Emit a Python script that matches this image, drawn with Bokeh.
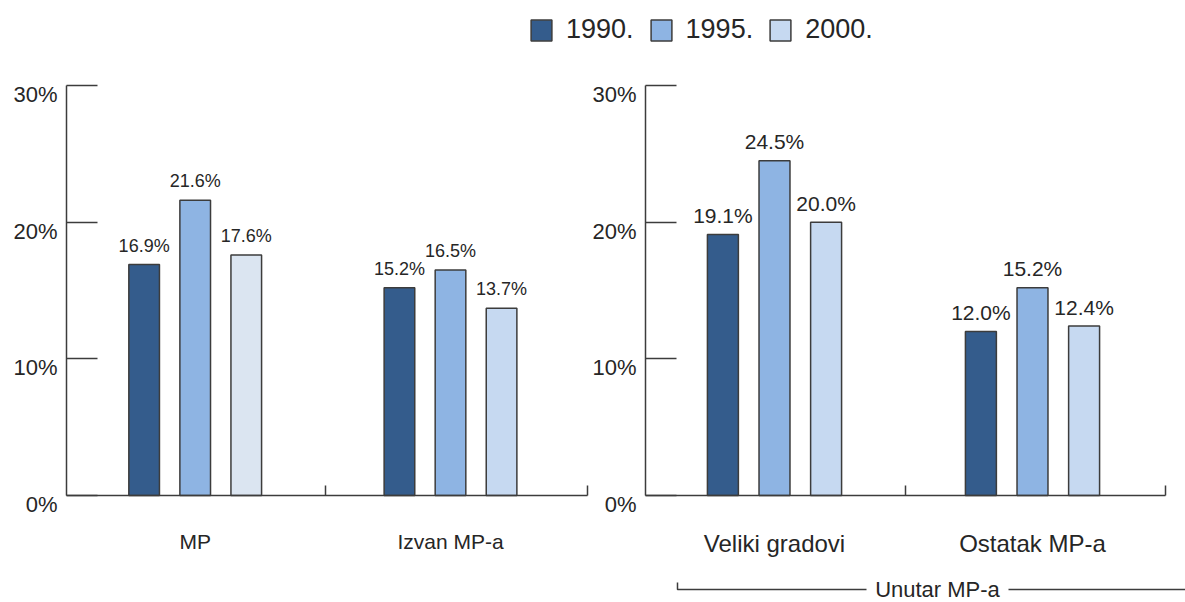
from bokeh.plotting import figure
from bokeh.models import (Range1d, FixedTicker, ColumnDataSource, Legend, LegendItem,
                          LinearAxis, CustomJSTickFormatter)
from bokeh.embed import file_html
from bokeh.resources import INLINE
from bokeh.core.properties import value

# ---------------- data ----------------
years = ["1990.", "1995.", "2000."]
left_categories = ["MP", "Izvan MP-a"]
right_categories = ["Veliki gradovi", "Ostatak MP-a"]
left_1990 = [16.9, 15.2]
left_1995 = [21.6, 16.5]
left_2000 = [17.6, 13.7]
right_1990 = [19.1, 12.0]
right_1995 = [24.5, 15.2]
right_2000 = [20.0, 12.4]
y_ticks = [0, 10, 20, 30]
group_label = "Unutar MP-a"

# ---------------- style / layout ----------------
FONT = "Liberation Sans"
TEXT = "#262626"
AXIS = "#3c3c3c"
left_fills = [["#345c8c"] * 2, ["#8eb4e3"] * 2, ["#dbe5f1", "#c6d9f1"]]
right_fills = [["#345c8c"] * 2, ["#8eb4e3"] * 2, ["#c6d9f1"] * 2]
offsets = [-0.2, 0.0, 0.2]
BAR_W = 0.12

W, H = 1185, 602
Y0_PX, Y30_PX = 495, 85          # pixel rows of 0% and 30%
per_y = (Y0_PX - Y30_PX) / 30.0
# panel geometry in pixels: first category centre, category step, axis ends, middle tick
LEFT = dict(c0=194.7, step=255.3, ax0=66, ax1=587, mid=325)
RIGHT = dict(c0=774.0, step=258.0, ax0=645, ax1=1165, mid=905)


def ry(py):
    return (Y0_PX - py) / per_y


def tx(px, g):
    return (px - g["c0"]) / g["step"]


p = figure(width=W, height=H,
           x_range=Range1d(tx(0, LEFT), tx(W, LEFT)),
           y_range=Range1d(ry(H), ry(0)),
           x_axis_type=None, y_axis_type=None, min_border=0,
           outline_line_color=None, toolbar_location=None, output_backend="svg",
           background_fill_color="white", border_fill_color="white")
p.extra_x_ranges = {"right": Range1d(tx(0, RIGHT), tx(W, RIGHT))}

legend_renderers = []
panels = [("default", LEFT, left_categories, [left_1990, left_1995, left_2000], left_fills, "21px", "18px"),
          ("right", RIGHT, right_categories, [right_1990, right_1995, right_2000], right_fills, "24px", "21px")]

for name, g, cats, series, fills, cat_fs, val_fs in panels:
    x_axis_pos = tx(g["ax0"], g)
    ya = LinearAxis(x_range_name=name, fixed_location=x_axis_pos, bounds=(0, 30),
                    ticker=FixedTicker(ticks=y_ticks),
                    formatter=CustomJSTickFormatter(code="return ''"),
                    major_tick_in=31, major_tick_out=0, minor_tick_in=0, minor_tick_out=0,
                    axis_line_color=AXIS, axis_line_width=1.5,
                    major_tick_line_color=AXIS, major_tick_line_width=1.5)
    p.add_layout(ya, "left")

    xa = LinearAxis(x_range_name=name, fixed_location=0,
                    bounds=(x_axis_pos, tx(g["ax1"], g)),
                    ticker=FixedTicker(ticks=list(range(len(cats))),
                                       minor_ticks=[tx(g["mid"], g), tx(g["ax1"], g)]),
                    major_label_overrides={i: c for i, c in enumerate(cats)},
                    major_tick_in=0, major_tick_out=0, minor_tick_in=10, minor_tick_out=0,
                    minor_tick_line_color=AXIS, minor_tick_line_width=1.5,
                    axis_line_color=AXIS, axis_line_width=1.5,
                    major_label_standoff=34, major_label_text_font=FONT,
                    major_label_text_font_size=cat_fs, major_label_text_color=TEXT)
    p.add_layout(xa, "below")

    for j, vals in enumerate(series):
        xs = [i + offsets[j] for i in range(len(cats))]
        src = ColumnDataSource(dict(x=xs, top=vals, fill=fills[j],
                                    lab=[f"{v:.1f}%" for v in vals]))
        r = p.vbar(x="x", top="top", bottom=0, width=BAR_W, source=src,
                   fill_color="fill", line_color=AXIS, line_width=1.5, x_range_name=name)
        if name == "right":
            legend_renderers.append(r)
        p.text(x="x", y="top", text="lab", source=src, text_align="center",
               text_baseline="alphabetic", y_offset=-19, x_range_name=name,
               text_font=value(FONT), text_font_size=val_fs, text_color=TEXT)

    p.text(x=[x_axis_pos] * len(y_ticks), y=y_ticks, text=[f"{t}%" for t in y_ticks],
           x_offset=-9, y_offset=9, text_align="right", text_baseline="middle",
           x_range_name=name, text_font=value(FONT), text_font_size="22px",
           text_color=TEXT)

# bracket under the right panel
yl, yt = ry(589), ry(582)
p.multi_line(xs=[[tx(677, RIGHT), tx(677, RIGHT), tx(866, RIGHT)],
                 [tx(1008, RIGHT), tx(W + 10, RIGHT)]],
             ys=[[yt, yl, yl], [yl, yl]], line_color=AXIS, line_width=1.5,
             x_range_name="right")
p.text(x=[tx(937, RIGHT)], y=[yl], text=[group_label], text_align="center",
       text_baseline="middle", x_range_name="right", text_font=value(FONT),
       text_font_size="22px", text_color=TEXT)

# legend
items = [LegendItem(label=yr, renderers=[r]) for yr, r in zip(years, legend_renderers)]
leg = Legend(items=items, orientation="horizontal", location=(528, 557),
             glyph_width=26, glyph_height=26, label_standoff=12, spacing=14,
             padding=0, margin=0, border_line_color=None, background_fill_alpha=0,
             label_text_font=FONT, label_text_font_size="27px", label_text_color=TEXT)
p.add_layout(leg)

open("out.html", "w").write(file_html(p, INLINE))
